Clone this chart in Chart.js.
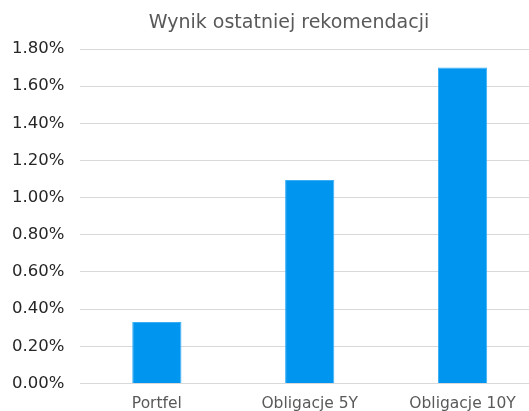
<!DOCTYPE html>
<html>
<head>
<meta charset="utf-8">
<script src="https://cdn.jsdelivr.net/npm/chart.js@4"></script>
<style>
  html, body { margin: 0; padding: 0; overflow: hidden; background: #fff; }
  #wrap { position: relative; width: 578px; height: 411px; }
  #title {
    position: absolute; left: 0; top: 8px; width: 578px;
    text-align: center; font-family: "DejaVu Sans"; font-size: 19px;
    color: #595959; line-height: 26px;
  }
</style>
</head>
<body>
<div id="wrap">
  <div id="title"></div>
  <canvas id="chart" width="578" height="411"></canvas>
</div>
<script>
// dane wykresu
const categories = ["Portfel", "Obligacje 5Y", "Obligacje 10Y"];
const values = [0.33, 1.095, 1.70];
const chartTitle = "Wynik ostatniej rekomendacji";
const yMin = 0;
const yMax = 1.8;
const yStep = 0.2;

document.getElementById("title").textContent = chartTitle;

const ctx = document.getElementById("chart").getContext("2d");

new Chart(ctx, {
  type: "bar",
  data: {
    labels: categories,
    datasets: [{
      data: values,
      backgroundColor: "#0096EF",
      borderColor: "#3AAEF5",
      borderWidth: 1,
      categoryPercentage: 1,
      barPercentage: 0.322
    }]
  },
  options: {
    responsive: false,
    animation: false,
    layout: { padding: { left: -4, right: 39, top: 49, bottom: -5 } },
    plugins: {
      legend: { display: false },
      tooltip: { enabled: false },
      title: { display: false }
    },
    scales: {
      x: {
        grid: { display: false },
        border: { display: false },
        ticks: {
          color: "#595959",
          font: { family: "DejaVu Sans", size: 15.5 },
          padding: 3,
          maxRotation: 0
        }
      },
      y: {
        min: yMin,
        max: yMax,
        grid: { color: "#d9d9d9", lineWidth: 1, drawTicks: false },
        border: { display: false },
        ticks: {
          stepSize: yStep,
          color: "#262626",
          font: { family: "DejaVu Sans", size: 16.5 },
          padding: 16,
          callback: v => v.toFixed(2) + "%"
        }
      }
    }
  }
});
</script>
</body>
</html>
